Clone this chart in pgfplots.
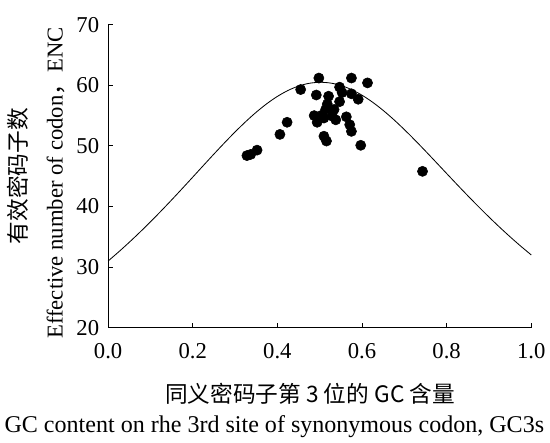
\documentclass[border=0pt]{standalone}
\usepackage{fontspec}
\setmainfont{Liberation Serif}
\newfontfamily\cjk{Noto Sans CJK SC}
\usepackage{pgfplots}
\pgfplotsset{compat=1.18}

\begin{document}
\begin{tikzpicture}[font=\fontsize{16.5}{19}\selectfont]
\begin{axis}[
    scale only axis,
    width=308pt, height=220.5pt,
    xmin=0, xmax=1, ymin=20, ymax=70,
    xtick={0,0.2,0.4,0.6,0.8,1.0},
    ytick={20,30,40,50,60,70},
    axis x line*=bottom,
    axis y line*=left,
    axis line style={-, line width=0.9pt},
    tick align=inside,
    major tick length=3.5pt,
    tick style={line width=0.7pt, black},
    tick label style={font=\fontsize{16.5}{19}\selectfont},
    x tick label style={yshift=-8pt, /pgf/number format/.cd, fixed, fixed zerofill, precision=1, assume math mode=true},
    y tick label style={xshift=-3pt, /pgf/number format/.cd, assume math mode=true},
    clip=false,
]
% expected ENC curve
\addplot[black, line width=0.6pt, smooth] coordinates {
(0,31.000)(0.025,32.511)(0.05,34.094)(0.075,35.747)(0.1,37.466)
(0.125,39.245)(0.15,41.076)(0.175,42.948)(0.2,44.847)(0.225,46.755)
(0.25,48.650)(0.275,50.508)(0.3,52.300)(0.325,53.995)(0.35,55.561)
(0.375,56.963)(0.4,58.169)(0.425,59.149)(0.45,59.876)(0.475,60.330)
(0.5,60.500)(0.525,60.380)(0.55,59.976)(0.575,59.299)(0.6,58.369)
(0.625,57.213)(0.65,55.861)(0.675,54.345)(0.7,52.700)(0.725,50.958)
(0.75,49.150)(0.775,47.305)(0.8,45.447)(0.825,43.598)(0.85,41.776)
(0.875,39.995)(0.9,38.266)(0.925,36.597)(0.95,34.994)(0.975,33.461)
(1.0,32.000)
};
% genes
\addplot[only marks, mark=*, mark size=3.7pt, black] coordinates {
(0.328,48.4)(0.337,48.6)(0.352,49.3)(0.406,51.9)(0.423,53.9)
(0.455,59.3)(0.498,61.2)(0.492,58.4)(0.487,55.0)(0.494,53.9)
(0.506,55.1)(0.510,51.6)(0.516,50.8)(0.510,54.6)(0.514,56.0)
(0.518,56.9)(0.521,58.2)(0.534,56.0)(0.530,54.9)(0.538,54.3)
(0.547,59.7)(0.553,58.8)(0.547,57.3)(0.563,54.8)(0.571,53.5)
(0.575,52.4)(0.575,61.2)(0.575,58.6)(0.591,57.7)(0.613,60.4)
(0.597,50.1)(0.743,45.8)
};
\end{axis}
\path ([yshift=18pt]current axis.north west);
\node[rotate=90] at ([xshift=-38pt,yshift=-5pt]current axis.west) {Effective number of codon{\cjk ，}ENC};
\node[rotate=90] at ([xshift=-66pt]current axis.west) {\cjk 有效密码子数};
\node at ([xshift=-7pt,yshift=-48pt]current axis.south) {\cjk 同义密码子第 3 位的 GC 含量};
\node[font=\fontsize{17.5}{20}\selectfont] at ([xshift=-33pt,yshift=-72pt]current axis.south) {GC content on rhe 3rd site of synonymous codon, GC3s};
\end{tikzpicture}
\end{document}
